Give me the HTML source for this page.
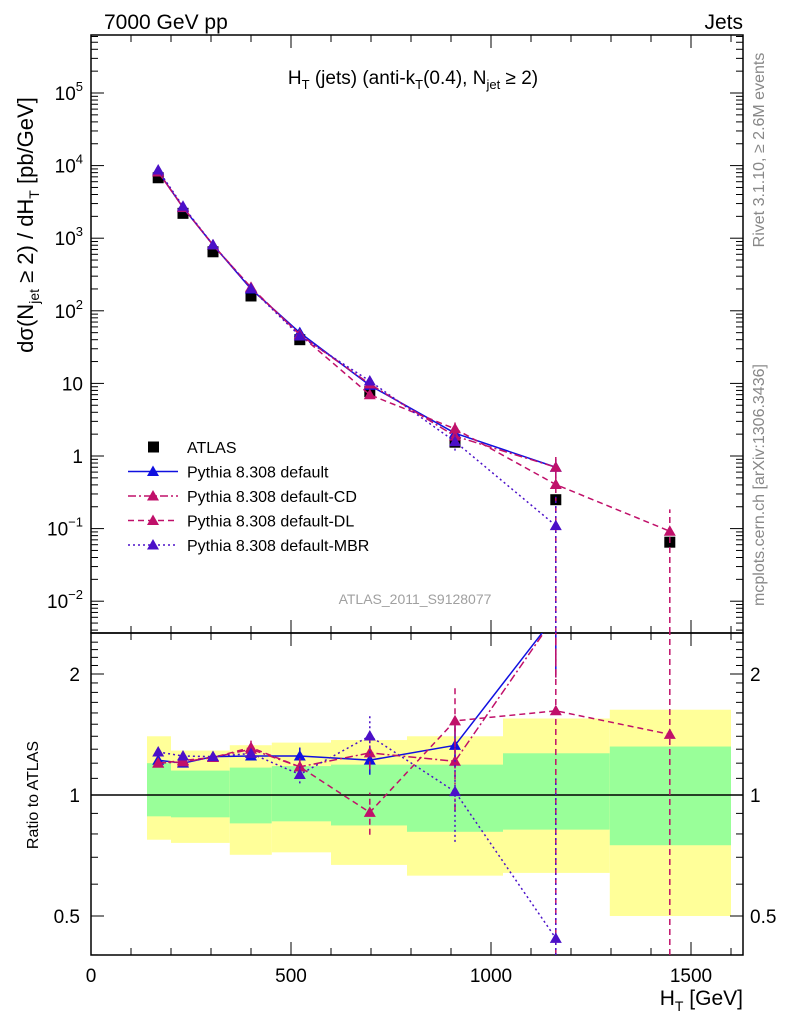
<!DOCTYPE html>
<html><head><meta charset="utf-8">
<style>
html,body{margin:0;padding:0;width:786px;height:1024px;overflow:hidden;background:#fff;}
svg{display:block;font-family:"Liberation Sans","DejaVu Sans",sans-serif;}
</style></head>
<body>
<svg id="chart" width="786" height="1024" viewBox="0 0 786 1024" xmlns="http://www.w3.org/2000/svg">
<rect width="786" height="1024" fill="#fff"/>
<g id="bands"></g>
<g id="grid"></g>
<g id="series"></g>
<text x="104" y="29" font-size="21">7000 GeV pp</text>
<text x="743" y="29" font-size="21" text-anchor="end">Jets</text>
<text x="413" y="84" font-size="19" text-anchor="middle">H<tspan font-size="13" dy="5">T</tspan><tspan dy="-5"> (jets) (anti-k</tspan><tspan font-size="13" dy="5">T</tspan><tspan dy="-5">(0.4), N</tspan><tspan font-size="13" dy="5">jet</tspan><tspan dy="-5"> ≥ 2)</tspan></text>
<text x="415" y="604" font-size="14" fill="#a0a0a0" text-anchor="middle">ATLAS_2011_S9128077</text>
<text transform="translate(764,150) rotate(-90)" font-size="16" fill="#888" text-anchor="middle">Rivet 3.1.10, ≥ 2.6M events</text>
<text transform="translate(764,485) rotate(-90)" font-size="16" fill="#888" text-anchor="middle">mcplots.cern.ch [arXiv:1306.3436]</text>
<text transform="translate(33,225) rotate(-90)" font-size="22" text-anchor="middle">dσ(N<tspan font-size="14" dy="6">jet</tspan><tspan dy="-6"> ≥ 2) / dH</tspan><tspan font-size="14" dy="6">T</tspan><tspan dy="-6"> [pb/GeV]</tspan></text>
<text transform="translate(38,795) rotate(-90)" font-size="16" text-anchor="middle">Ratio to ATLAS</text>
<text x="743" y="1005" font-size="21" text-anchor="end">H<tspan font-size="14" dy="6">T</tspan><tspan dy="-6"> [GeV]</tspan></text>
<g id="legend"></g>
</svg>
<script>
// ---- data ----
const xCenters = [168, 230, 305, 400, 522, 697, 910, 1162, 1447];
const binEdges = [140, 200, 260, 347, 452, 600, 790, 1030, 1297, 1600];
const atlas = [6800, 2200, 650, 160, 40, 7.7, 1.55, 0.25, 0.065];
const yellowHi = [1.40, 1.29, 1.29, 1.33, 1.35, 1.37, 1.40, 1.55, 1.63];
const greenHi = [1.20, 1.15, 1.15, 1.17, 1.18, 1.19, 1.19, 1.27, 1.32];
const greenLo = [0.885, 0.88, 0.88, 0.85, 0.86, 0.84, 0.81, 0.82, 0.75];
const yellowLo = [0.774, 0.76, 0.76, 0.71, 0.72, 0.67, 0.63, 0.64, 0.50];
const pyDefault = [8300, 2640, 810, 200, 50, 9.4, 2.06, 0.7, null];
const pyCD = [8160, 2660, 806, 208, 47, 9.8, 1.88, 0.7, null];
const pyDL = [8160, 2680, 806, 210, 47, 6.97, 2.37, 0.405, 0.092];
const pyMBR = [8700, 2750, 810, 203, 45, 10.8, 1.58, 0.11, null];
const errDefault = [0.01, 0.01, 0.01, 0.02, 0.05, 0.08, 0.12, 0.3, 0];
const errCD = [0.01, 0.01, 0.01, 0.03, 0.05, 0.09, 0.25, 0.3, 0];
const errDL = [0.01, 0.01, 0.02, 0.04, 0.05, 0.12, 0.22, 1.5, 1.0];
const errMBR = [0.01, 0.01, 0.01, 0.02, 0.05, 0.12, 0.25, 1.5, 0];
const xTicks = [0, 500, 1000, 1500];
const yDecades = [-2, -1, 0, 1, 2, 3, 4, 5];
const ratioTicks = [0.5, 1, 2];

// ---- axes ----
const L = 91, R = 743, T = 35, MB = 633, RB = 955;
const xs = v => L + v * 0.4;
const ys = v => 456 - Math.log10(v) * 72.6;
const yr = r => 795 - Math.log2(r) * 121;
const clampM = y => Math.min(Math.max(y, T), MB);
const clampR = y => Math.min(Math.max(y, MB), RB);
const NS = "http://www.w3.org/2000/svg";
function mk(tag, attrs, parent) {
  const e = document.createElementNS(NS, tag);
  for (const k in attrs) e.setAttribute(k, attrs[k]);
  parent.appendChild(e);
  return e;
}
const bands = document.getElementById('bands');
const grid = document.getElementById('grid');
const series = document.getElementById('series');
const legend = document.getElementById('legend');

for (let i = 0; i < xCenters.length; i++) {
  const x0 = xs(binEdges[i]), x1 = xs(binEdges[i + 1]);
  const yb = mk('rect', {x: x0, y: yr(yellowHi[i]), width: x1 - x0, height: yr(yellowLo[i]) - yr(yellowHi[i]), fill: '#ffff99'}, bands);
  
  
  const gb = mk('rect', {x: x0, y: yr(greenHi[i]), width: x1 - x0, height: yr(greenLo[i]) - yr(greenHi[i]), fill: '#99ff99'}, bands);
  
  
}
const ul = mk('line', {x1: L, x2: R, y1: yr(1), y2: yr(1), stroke: '#000', 'stroke-width': 1.5}, grid);



const f1 = mk('rect', {x: L, y: T, width: R - L, height: MB - T, fill: 'none', stroke: '#000', 'stroke-width': 1.5}, grid);


const f2 = mk('rect', {x: L, y: MB, width: R - L, height: RB - MB, fill: 'none', stroke: '#000', 'stroke-width': 1.5}, grid);



for (let v = 0; v <= 1600; v += 100) {
  const x = xs(v), len = v % 500 === 0 ? 13 : 7;
  [[T, 1], [MB, -1], [MB, 1], [RB, -1]].forEach(([y, d]) => mk('line', {x1: x, x2: x, y1: y, y2: y + d * len, stroke: '#000', 'stroke-width': 1}, grid));
}
xTicks.forEach(v => {
  const t = mk('text', {x: xs(v), y: 982, 'font-size': 19, 'text-anchor': 'middle'}, grid);
  t.textContent = v;
  
  
});
for (let d = -3; d <= 5; d++) {
  for (let m = 1; m < 10; m++) {
    const v = m * Math.pow(10, d), y = ys(v);
    if (y < T || y > MB) continue;
    const len = m === 1 ? 13 : 7;
    mk('line', {x1: L, x2: L + len, y1: y, y2: y, stroke: '#000', 'stroke-width': 1}, grid);
    mk('line', {x1: R, x2: R - len, y1: y, y2: y, stroke: '#000', 'stroke-width': 1}, grid);
  }
}
yDecades.forEach(d => {
  const y = ys(Math.pow(10, d));
  const t = mk('text', {x: 83, y: y + 7, 'font-size': 19, 'text-anchor': 'end'}, grid);
  
  
  if (d === 0) t.textContent = '1';
  else if (d === 1) t.textContent = '10';
  else {
    t.textContent = '10';
    const s = mk('tspan', {dy: -9, 'font-size': 13}, t);
    s.textContent = d < 0 ? '−' + (-d) : String(d);
  }
});
for (let r = 0.4; r <= 2.5; r += 0.1) {
  const y = yr(r);
  if (y < MB || y > RB) continue;
  const maj = ratioTicks.some(t => Math.abs(t - r) < 1e-6);
  const len = maj ? 13 : 7;
  mk('line', {x1: L, x2: L + len, y1: y, y2: y, stroke: '#000', 'stroke-width': 1}, grid);
  mk('line', {x1: R, x2: R - len, y1: y, y2: y, stroke: '#000', 'stroke-width': 1}, grid);
}
ratioTicks.forEach(r => {
  const t1 = mk('text', {x: 80, y: yr(r) + 7, 'font-size': 19, 'text-anchor': 'end'}, grid);
  t1.textContent = r;
  
  
  const t2 = mk('text', {x: 750, y: yr(r) + 7, 'font-size': 19}, grid);
  t2.textContent = r;
  
  
});

const defs = mk('defs', {}, document.getElementById('chart'));
const c1 = mk('clipPath', {id: 'cm'}, defs); mk('rect', {x: L, y: T, width: R - L, height: MB - T}, c1);
const c2 = mk('clipPath', {id: 'cr'}, defs); mk('rect', {x: L, y: MB, width: R - L, height: RB - MB}, c2);

function tri(g, x, y, col) {
  mk('polygon', {points: `${x},${y - 6} ${x - 6},${y + 4.5} ${x + 6},${y + 4.5}`, fill: col}, g);
}
const models = [
  {name: 'default', vals: pyDefault, err: errDefault, col: '#1010e0', dash: 'none'},
  {name: 'default-cd', vals: pyCD, err: errCD, col: '#c0106a', dash: '8,3,2,3'},
  {name: 'default-dl', vals: pyDL, err: errDL, col: '#c0106a', dash: '6,4'},
  {name: 'default-mbr', vals: pyMBR, err: errMBR, col: '#4b10c8', dash: '2,3'}
];
const ga = mk('g', {'clip-path': 'url(#cm)'}, series);


atlas.forEach((v, i) => {
  const r = mk('rect', {x: xs(xCenters[i]) - 5.5, y: ys(v) - 5.5, width: 11, height: 11, fill: '#000'}, ga);
  
  
});
models.forEach(m => {
  const gm = mk('g', {'clip-path': 'url(#cm)'}, series);
  
  
  const gr = mk('g', {'clip-path': 'url(#cr)'}, series);
  
  
  let pm = [], pr = [];
  m.vals.forEach((v, i) => {
    if (v == null) return;
    const x = xs(xCenters[i]);
    pm.push(x + ',' + ys(v));
    const r = v / atlas[i];
    pr.push(x + ',' + Math.max(yr(r), T));
    const e = m.err[i];
    if (e > 0) {
      const lo = Math.max(v * (1 - e), 1e-6), hi = v * (1 + e);
      mk('line', {x1: x, x2: x, y1: clampM(ys(lo)), y2: clampM(ys(hi)), stroke: m.col, 'stroke-width': 1.5, 'stroke-dasharray': m.dash}, gm);
      mk('line', {x1: x, x2: x, y1: clampR(yr(lo / atlas[i])), y2: clampR(yr(hi / atlas[i])), stroke: m.col, 'stroke-width': 1.5, 'stroke-dasharray': m.dash}, gr);
    }
  });
  mk('polyline', {points: pm.join(' '), fill: 'none', stroke: m.col, 'stroke-width': 1.5, 'stroke-dasharray': m.dash}, gm);
  mk('polyline', {points: pr.join(' '), fill: 'none', stroke: m.col, 'stroke-width': 1.5, 'stroke-dasharray': m.dash}, gr);
  m.vals.forEach((v, i) => {
    if (v == null) return;
    const x = xs(xCenters[i]);
    tri(gm, x, ys(v), m.col);
    const yy = yr(v / atlas[i]);
    if (yy > MB) tri(gr, x, yy, m.col);
  });
});

const lgNames = ['ATLAS', 'Pythia 8.308 default', 'Pythia 8.308 default-CD', 'Pythia 8.308 default-DL', 'Pythia 8.308 default-MBR'];
lgNames.forEach((n, i) => {
  const y = 447 + i * 24.5;
  const g = mk('g', {}, legend);
  
  
  if (i === 0) mk('rect', {x: 148, y: y - 5.5, width: 11, height: 11, fill: '#000'}, g);
  else {
    const m = models[i - 1];
    mk('line', {x1: 128, x2: 178, y1: y, y2: y, stroke: m.col, 'stroke-width': 1.5, 'stroke-dasharray': m.dash}, g);
    tri(g, 153, y, m.col);
  }
  const t = mk('text', {x: 187, y: y + 6, 'font-size': 16}, g);
  t.textContent = n;
});
</script>
</body></html>
